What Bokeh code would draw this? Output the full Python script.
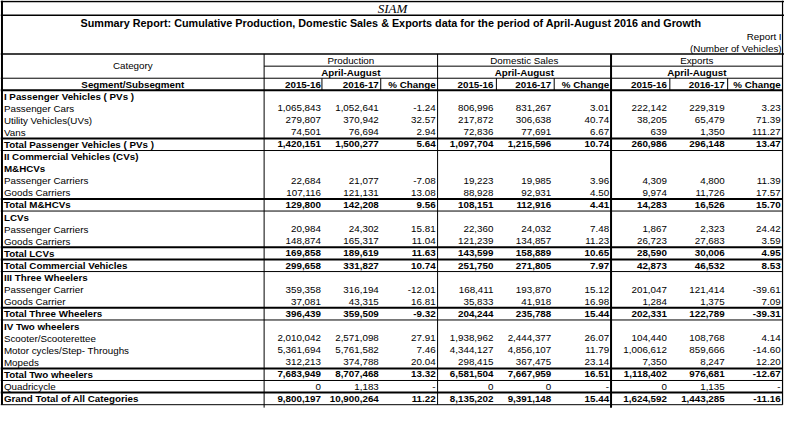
from bokeh.plotting import figure
from bokeh.models import Range1d
from bokeh.embed import file_html
from bokeh.resources import INLINE
from bokeh.core.properties import value

# ---------------- data ----------------
org_name = "SIAM"
title = "Summary Report: Cumulative Production, Domestic Sales & Exports data for the period of April-August 2016  and Growth"
report_id = "Report I"
unit_note = "(Number of Vehicles)"
groups = ["Production", "Domestic Sales", "Exports"]
period = "April-August"
years = ["2015-16", "2016-17", "% Change"]

segments = [
    "I Passenger Vehicles ( PVs )", "Passenger Cars", "Utility Vehicles(UVs)", "Vans",
    "Total Passenger Vehicles ( PVs )", "II Commercial Vehicles (CVs)", "M&HCVs",
    "Passenger Carriers", "Goods Carriers", "Total M&HCVs", "LCVs",
    "Passenger Carriers", "Goods Carriers", "Total LCVs", "Total  Commercial Vehicles",
    "III Three Wheelers", "Passenger Carrier", "Goods Carrier", "Total Three Wheelers",
    "IV Two wheelers", "Scooter/Scooterettee", "Motor cycles/Step- Throughs", "Mopeds",
    "Total Two wheelers", "Quadricycle", "Grand Total of All Categories",
]
row_kind = ["head", "item", "item", "item", "total", "head", "head", "item", "item", "total",
            "head", "item", "item", "total", "total", "head", "item", "item", "total",
            "head", "item", "item", "item", "total", "item", "total"]

prod_1516 = [None, 1065843, 279807, 74501, 1420151, None, None, 22684, 107116, 129800,
             None, 20984, 148874, 169858, 299658, None, 359358, 37081, 396439,
             None, 2010042, 5361694, 312213, 7683949, 0, 9800197]
prod_1617 = [None, 1052641, 370942, 76694, 1500277, None, None, 21077, 121131, 142208,
             None, 24302, 165317, 189619, 331827, None, 316194, 43315, 359509,
             None, 2571098, 5761582, 374788, 8707468, 1183, 10900264]
prod_pct = [None, -1.24, 32.57, 2.94, 5.64, None, None, -7.08, 13.08, 9.56,
            None, 15.81, 11.04, 11.63, 10.74, None, -12.01, 16.81, -9.32,
            None, 27.91, 7.46, 20.04, 13.32, "-", 11.22]
dom_1516 = [None, 806996, 217872, 72836, 1097704, None, None, 19223, 88928, 108151,
            None, 22360, 121239, 143599, 251750, None, 168411, 35833, 204244,
            None, 1938962, 4344127, 298415, 6581504, 0, 8135202]
dom_1617 = [None, 831267, 306638, 77691, 1215596, None, None, 19985, 92931, 112916,
            None, 24032, 134857, 158889, 271805, None, 193870, 41918, 235788,
            None, 2444377, 4856107, 367475, 7667959, 0, 9391148]
dom_pct = [None, 3.01, 40.74, 6.67, 10.74, None, None, 3.96, 4.50, 4.41,
           None, 7.48, 11.23, 10.65, 7.97, None, 15.12, 16.98, 15.44,
           None, 26.07, 11.79, 23.14, 16.51, "-", 15.44]
exp_1516 = [None, 222142, 38205, 639, 260986, None, None, 4309, 9974, 14283,
            None, 1867, 26723, 28590, 42873, None, 201047, 1284, 202331,
            None, 104440, 1006612, 7350, 1118402, 0, 1624592]
exp_1617 = [None, 229319, 65479, 1350, 296148, None, None, 4800, 11726, 16526,
            None, 2323, 27683, 30006, 46532, None, 121414, 1375, 122789,
            None, 108768, 859666, 8247, 976681, 1135, 1443285]
exp_pct = [None, 3.23, 71.39, 111.27, 13.47, None, None, 11.39, 17.57, 15.70,
           None, 24.42, 3.59, 4.95, 8.53, None, -39.61, 7.09, -39.31,
           None, 4.14, -14.60, 12.20, -12.67, "-", -11.16]

# ---------------- layout ----------------
FONT = "Liberation Sans"
FS = "9.8px"
ROW0, DY = 97.5, 12.35
n = len(segments)
row_y = [ROW0 + i * DY for i in range(n)]
body_bottom = ROW0 + (n - 0.5) * DY
LEFT, RIGHT = 1.5, 798
CAT_R = 269
group_edges = [(269, 446), (446, 623), (623, 798)]
col_right = [[327, 386, 444], [503, 562, 621], [680, 739, 796]]
year_seps = [328, 388, 506, 565, 683, 742]

p = figure(width=784, height=408, x_range=Range1d(0, 800), y_range=Range1d(416.3, 0),
           output_backend="svg", toolbar_location=None, min_border=0,
           outline_line_color=None, x_axis_location=None, y_axis_location=None,
           background_fill_color="white", border_fill_color="white")
p.grid.visible = False


def txt(xs, ys, texts, align="left", bold=False, size=FS, font=FONT, style=None):
    if not texts:
        return
    p.text(x=xs, y=ys, text=texts, text_align=align, text_baseline="middle",
           text_font=value(font), text_font_size=size,
           text_font_style=style or ("bold" if bold else "normal"), text_color="black")


def fmt(v, pct=False):
    if v is None:
        return None
    if isinstance(v, str):
        return v
    return f"{v:.2f}" if pct else f"{v:,}"


# title area
txt([400], [8.5], [org_name], align="center", size="13px", font="Liberation Serif", style="italic")
txt([400], [22.5], [title], align="center", bold=True, size="10.8px")
txt([797], [37], [report_id], align="right")
txt([797], [49], [unit_note], align="right")

# header
txt([135], [66.5], ["Category"], align="center")
txt([135], [86], ["Segment/Subsegment"], align="center", bold=True)
gx = [(a + b) / 2 for a, b in group_edges]
txt(gx, [61] * 3, groups, align="center")
txt(gx, [73.5] * 3, [period] * 3, align="center", bold=True)
hx, hy, ht = [], [], []
for g in range(3):
    for c in range(3):
        hx.append(col_right[g][c]); hy.append(86); ht.append(years[c])
txt(hx, hy, ht, align="right", bold=True)

# body labels
for bold in (False, True):
    xs, ys, ts = [], [], []
    for i, s in enumerate(segments):
        if (row_kind[i] != "item") == bold:
            xs.append(3.5); ys.append(row_y[i]); ts.append(s)
    txt(xs, ys, ts, bold=bold)

# body numbers
series = [(prod_1516, prod_1617, prod_pct), (dom_1516, dom_1617, dom_pct), (exp_1516, exp_1617, exp_pct)]
for bold in (False, True):
    xs, ys, ts = [], [], []
    for g, cols in enumerate(series):
        for c, arr in enumerate(cols):
            for i, v in enumerate(arr):
                t = fmt(v, pct=(c == 2))
                if t is None or (row_kind[i] == "total") != bold:
                    continue
                xs.append(col_right[g][c]); ys.append(row_y[i]); ts.append(t)
    txt(xs, ys, ts, align="right", bold=bold)

# ---------------- rules ----------------
def seg(x0, y0, x1, y1, w):
    p.segment(x0=x0, y0=y0, x1=x1, y1=y1, line_color="black", line_width=w)

# outer frame and header lines
seg([0, 0, 0], [1, 15, 54.5], [800, 800, 800], [1, 15, 54.5], 1.5)
seg([CAT_R, 0], [67, 79.3], [RIGHT, RIGHT], [67, 79.3], 1)
seg([0], [91.7], [RIGHT], [91.7], 2)
seg([LEFT], [0], [LEFT], [body_bottom], 2)
seg([RIGHT], [0], [RIGHT], [body_bottom], 1.2)
seg([CAT_R, 446], [54.5, 54.5], [CAT_R, 446], [body_bottom + 3, body_bottom], 1)
seg([623], [54.5], [623], [body_bottom + 3], 2)
seg(year_seps, [79.3] * 6, year_seps, [91.7] * 6, 1)

# row rules around totals
thin_y, thick_y = [], []
for i, k in enumerate(row_kind):
    if k == "total":
        thick_y.append(ROW0 + (i - 0.5) * DY)
        thin_y.append(ROW0 + (i + 0.5) * DY)
thin_y = [y for y in thin_y if all(abs(y - t) > 1 for t in thick_y)]
seg([0] * len(thin_y), thin_y, [RIGHT] * len(thin_y), thin_y, 1)
seg([0] * len(thick_y), thick_y, [RIGHT] * len(thick_y), thick_y, 2)

open("out.html", "w").write(file_html(p, INLINE))
